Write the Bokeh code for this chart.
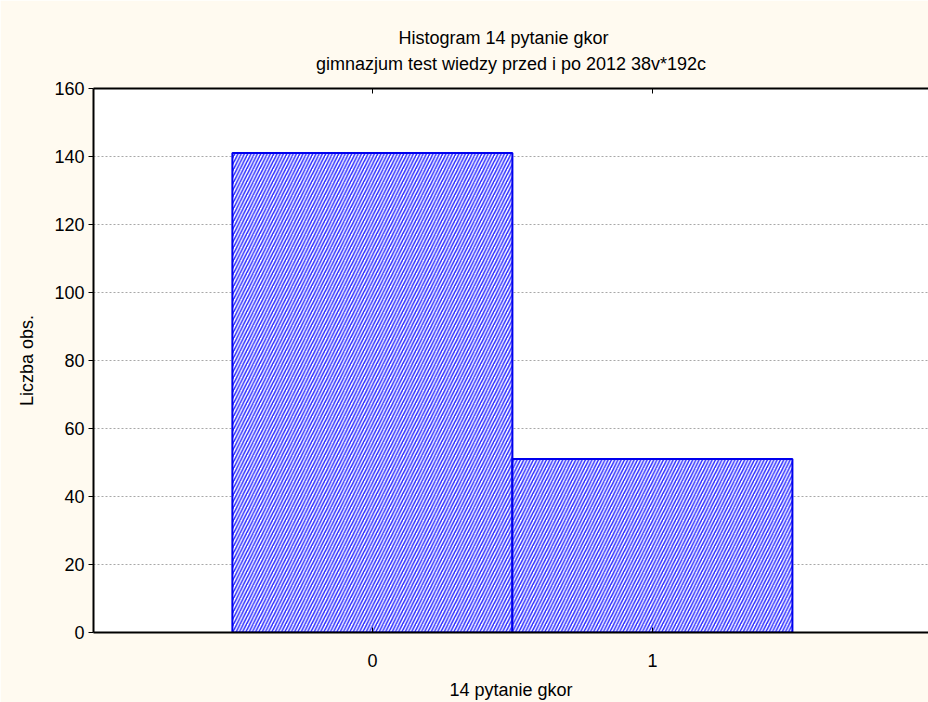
from bokeh.plotting import figure
from bokeh.models import Title, LinearAxis, FixedTicker, Range1d
from bokeh.embed import file_html
from bokeh.resources import INLINE

# ---- data ----
categories = [0, 1]
counts = [141, 51]
x_tick_labels = {0: "0", 1: "1"}
y_ticks = [0, 20, 40, 60, 80, 100, 120, 140, 160]
title_line1 = "Histogram    14 pytanie gkor"
title_line2 = "gimnazjum test wiedzy przed i po 2012 38v*192c"
x_label = "14 pytanie gkor"
y_label = "Liczba obs."

FONT = "Liberation Sans"
FS = "18px"
BG = "#fffaf0"

p = figure(width=928, height=702, output_backend="svg", toolbar_location=None,
           x_range=Range1d(-0.996, 1.986), y_range=Range1d(0, 160),
           x_axis_location=None, y_axis_location=None, title=None,
           min_border_left=93, min_border_right=0, min_border_bottom=70, min_border_top=88)
p.border_fill_color = BG
p.background_fill_color = "white"
p.outline_line_color = None

# grid
p.xgrid.visible = False
p.ygrid.ticker = FixedTicker(ticks=y_ticks)
p.ygrid.grid_line_color = "#a8a8a8"
p.ygrid.grid_line_dash = "2 2"
p.ygrid.grid_line_width = 1

# bars
p.vbar(x=categories, top=counts, width=1.0, bottom=0,
       fill_color="white", line_color="#0000ee", line_width=2,
       hatch_pattern="/", hatch_color="#2a2aff", hatch_scale=6.5, hatch_weight=1.5)

# left axis
yax = LinearAxis(ticker=FixedTicker(ticks=y_ticks), axis_label=y_label)
yax.axis_line_width = 2
yax.axis_line_color = "black"
yax.major_tick_out = 5
yax.major_tick_in = 0
yax.minor_tick_out = 0
yax.minor_tick_in = 0
yax.major_label_standoff = 4
yax.axis_label_standoff = 14
yax.major_label_text_font = FONT
yax.major_label_text_font_size = FS
yax.major_label_text_color = "black"
yax.axis_label_text_font = FONT
yax.axis_label_text_font_size = FS
yax.axis_label_text_font_style = "normal"
yax.axis_label_text_color = "black"
p.add_layout(yax, "left")

# bottom axis
xax = LinearAxis(ticker=FixedTicker(ticks=categories), axis_label=x_label,
                 major_label_overrides=x_tick_labels)
xax.axis_line_width = 2
xax.axis_line_color = "black"
xax.major_tick_out = 0
xax.major_tick_in = 5
xax.minor_tick_out = 0
xax.minor_tick_in = 0
xax.major_label_standoff = 21
xax.axis_label_standoff = 10
xax.major_label_text_font = FONT
xax.major_label_text_font_size = FS
xax.major_label_text_color = "black"
xax.axis_label_text_font = FONT
xax.axis_label_text_font_size = FS
xax.axis_label_text_font_style = "normal"
xax.axis_label_text_color = "black"
p.add_layout(xax, "below")

# top border axis (ticks only, no labels)
tax = LinearAxis(ticker=FixedTicker(ticks=categories),
                 major_label_overrides={0: "", 1: ""})
tax.axis_line_width = 2
tax.axis_line_color = "black"
tax.major_tick_out = 0
tax.major_tick_in = 5
tax.minor_tick_out = 0
tax.minor_tick_in = 0
tax.major_label_text_color = None
tax.major_label_standoff = 0
p.add_layout(tax, "above")

t2 = Title(text=title_line2, align="center", text_font=FONT, text_font_size=FS,
           text_font_style="normal", text_color="black", standoff=30, offset=-13)
p.add_layout(t2, "above")
t1 = Title(text=title_line1, align="center", text_font=FONT, text_font_size=FS,
           text_font_style="normal", text_color="black", standoff=-22, offset=-13)
p.add_layout(t1, "above")

open("out.html", "w").write(file_html(p, INLINE))
